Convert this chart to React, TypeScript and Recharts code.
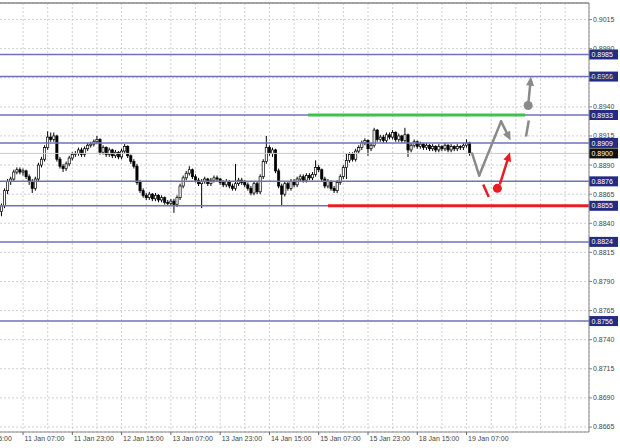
import { ComposedChart, Bar, XAxis, YAxis, CartesianGrid, ReferenceLine, ReferenceDot } from 'recharts';

// H1 candles, bar 0 = 11 Jan 00:00
const opens = [
  0.8850, 0.8855, 0.8868, 0.8876, 0.8878, 0.8884, 0.8886, 0.8884, 0.8885, 0.8880,
  0.8876, 0.8870, 0.8878, 0.8890, 0.8895, 0.8905, 0.8914, 0.8912, 0.8915, 0.8895,
  0.8889, 0.8887, 0.8891, 0.8896, 0.8899, 0.8900, 0.8903, 0.8899, 0.8904, 0.8907,
  0.8908, 0.8910, 0.8912, 0.8901, 0.8905, 0.8899, 0.8903, 0.8898, 0.8901, 0.8897,
  0.8902, 0.8906, 0.8898, 0.8893, 0.8889, 0.8875, 0.8868, 0.8864, 0.8862, 0.8865,
  0.8861, 0.8864, 0.8860, 0.8862, 0.8858, 0.8857, 0.8859, 0.8856, 0.8862, 0.8872,
  0.8879, 0.8883, 0.8886, 0.8880, 0.8877, 0.8874, 0.8876, 0.8878, 0.8874, 0.8877,
  0.8879, 0.8878, 0.8875, 0.8873, 0.8876, 0.8872, 0.8870, 0.8874, 0.8877, 0.8875,
  0.8873, 0.8870, 0.8866, 0.8874, 0.8867, 0.8880, 0.8893, 0.8905, 0.8900, 0.8903,
  0.8885, 0.8872, 0.8865, 0.8874, 0.8870, 0.8876, 0.8873, 0.8878, 0.8880, 0.8877,
  0.8881, 0.8879, 0.8882, 0.8888, 0.8886, 0.8878, 0.8872, 0.8876, 0.8870, 0.8868,
  0.8875, 0.8880, 0.8888, 0.8894, 0.8899, 0.8895, 0.8902, 0.8905, 0.8909, 0.8911,
  0.8904, 0.8907, 0.8920, 0.8912, 0.8914, 0.8911, 0.8916, 0.8914, 0.8918, 0.8912,
  0.8915, 0.8911, 0.8916, 0.8903, 0.8907, 0.8910, 0.8906, 0.8908, 0.8905, 0.8907,
  0.8904, 0.8906, 0.8903, 0.8906, 0.8904, 0.8907, 0.8903, 0.8906, 0.8904, 0.8906,
  0.8905, 0.8907, 0.8909,
];
const highs = [
  0.8857, 0.8870, 0.8878, 0.8880, 0.8886, 0.8888, 0.8888, 0.8887, 0.8886, 0.8882,
  0.8878, 0.8880, 0.8892, 0.8897, 0.8907, 0.8919, 0.8918, 0.8918, 0.8916, 0.8897,
  0.8891, 0.8893, 0.8898, 0.8901, 0.8902, 0.8905, 0.8905, 0.8906, 0.8909, 0.8910,
  0.8912, 0.8915, 0.8913, 0.8907, 0.8906, 0.8905, 0.8904, 0.8903, 0.8902, 0.8904,
  0.8908, 0.8907, 0.8899, 0.8895, 0.8891, 0.8877, 0.8870, 0.8866, 0.8867, 0.8866,
  0.8866, 0.8865, 0.8864, 0.8863, 0.8860, 0.8861, 0.8861, 0.8864, 0.8874, 0.8881,
  0.8885, 0.8889, 0.8887, 0.8882, 0.8879, 0.8878, 0.8880, 0.8879, 0.8879, 0.8881,
  0.8881, 0.8879, 0.8877, 0.8878, 0.8877, 0.8874, 0.8891, 0.8879, 0.8879, 0.8877,
  0.8875, 0.8872, 0.8876, 0.8876, 0.8882, 0.8895, 0.8915, 0.8907, 0.8905, 0.8904,
  0.8887, 0.8874, 0.8876, 0.8876, 0.8878, 0.8878, 0.8880, 0.8882, 0.8882, 0.8883,
  0.8883, 0.8884, 0.8894, 0.8890, 0.8887, 0.8880, 0.8878, 0.8877, 0.8872, 0.8877,
  0.8882, 0.8890, 0.8900, 0.8901, 0.8901, 0.8904, 0.8907, 0.8911, 0.8913, 0.8912,
  0.8909, 0.8922, 0.8921, 0.8916, 0.8916, 0.8918, 0.8918, 0.8920, 0.8919, 0.8917,
  0.8916, 0.8922, 0.8917, 0.8909, 0.8912, 0.8911, 0.8910, 0.8909, 0.8909, 0.8908,
  0.8908, 0.8907, 0.8908, 0.8907, 0.8909, 0.8908, 0.8908, 0.8907, 0.8908, 0.8907,
  0.8909, 0.8912, 0.8910,
];
const lows = [
  0.8846, 0.8853, 0.8865, 0.8873, 0.8876, 0.8882, 0.8882, 0.8881, 0.8878, 0.8873,
  0.8866, 0.8868, 0.8876, 0.8888, 0.8893, 0.8903, 0.8910, 0.8910, 0.8893, 0.8887,
  0.8884, 0.8885, 0.8889, 0.8894, 0.8897, 0.8898, 0.8897, 0.8897, 0.8902, 0.8905,
  0.8906, 0.8908, 0.8899, 0.8899, 0.8897, 0.8897, 0.8896, 0.8896, 0.8895, 0.8895,
  0.8900, 0.8896, 0.8891, 0.8887, 0.8873, 0.8866, 0.8862, 0.8860, 0.8860, 0.8859,
  0.8859, 0.8858, 0.8858, 0.8856, 0.8855, 0.8855, 0.8849, 0.8854, 0.8860, 0.8870,
  0.8877, 0.8881, 0.8878, 0.8875, 0.8872, 0.8853, 0.8874, 0.8872, 0.8872, 0.8875,
  0.8876, 0.8873, 0.8871, 0.8871, 0.8870, 0.8868, 0.8868, 0.8872, 0.8873, 0.8871,
  0.8868, 0.8864, 0.8864, 0.8865, 0.8865, 0.8878, 0.8891, 0.8898, 0.8897, 0.8883,
  0.8870, 0.8855, 0.8863, 0.8868, 0.8868, 0.8871, 0.8871, 0.8876, 0.8875, 0.8875,
  0.8877, 0.8877, 0.8880, 0.8884, 0.8876, 0.8870, 0.8870, 0.8868, 0.8866, 0.8866,
  0.8873, 0.8878, 0.8878, 0.8892, 0.8893, 0.8893, 0.8900, 0.8903, 0.8907, 0.8898,
  0.8902, 0.8905, 0.8910, 0.8910, 0.8909, 0.8909, 0.8912, 0.8912, 0.8910, 0.8910,
  0.8909, 0.8909, 0.8897, 0.8901, 0.8905, 0.8904, 0.8904, 0.8903, 0.8903, 0.8902,
  0.8902, 0.8901, 0.8901, 0.8902, 0.8902, 0.8901, 0.8901, 0.8902, 0.8902, 0.8903,
  0.8903, 0.8905, 0.8898,
];
const closes = [
  0.8855, 0.8868, 0.8876, 0.8878, 0.8884, 0.8886, 0.8884, 0.8885, 0.8880, 0.8876,
  0.8870, 0.8878, 0.8890, 0.8895, 0.8905, 0.8914, 0.8912, 0.8915, 0.8895, 0.8889,
  0.8887, 0.8891, 0.8896, 0.8899, 0.8900, 0.8903, 0.8899, 0.8904, 0.8907, 0.8908,
  0.8910, 0.8912, 0.8901, 0.8905, 0.8899, 0.8903, 0.8898, 0.8901, 0.8897, 0.8902,
  0.8906, 0.8898, 0.8893, 0.8889, 0.8875, 0.8868, 0.8864, 0.8862, 0.8865, 0.8861,
  0.8864, 0.8860, 0.8862, 0.8858, 0.8857, 0.8859, 0.8856, 0.8862, 0.8872, 0.8879,
  0.8883, 0.8886, 0.8880, 0.8877, 0.8874, 0.8876, 0.8878, 0.8874, 0.8877, 0.8879,
  0.8878, 0.8875, 0.8873, 0.8876, 0.8872, 0.8870, 0.8874, 0.8877, 0.8875, 0.8873,
  0.8870, 0.8866, 0.8874, 0.8867, 0.8880, 0.8893, 0.8905, 0.8900, 0.8903, 0.8885,
  0.8872, 0.8865, 0.8874, 0.8870, 0.8876, 0.8873, 0.8878, 0.8880, 0.8877, 0.8881,
  0.8879, 0.8882, 0.8888, 0.8886, 0.8878, 0.8872, 0.8876, 0.8870, 0.8868, 0.8875,
  0.8880, 0.8888, 0.8894, 0.8899, 0.8895, 0.8902, 0.8905, 0.8909, 0.8911, 0.8904,
  0.8907, 0.8920, 0.8912, 0.8914, 0.8911, 0.8916, 0.8914, 0.8918, 0.8912, 0.8915,
  0.8911, 0.8916, 0.8903, 0.8907, 0.8910, 0.8906, 0.8908, 0.8905, 0.8907, 0.8904,
  0.8906, 0.8903, 0.8906, 0.8904, 0.8907, 0.8903, 0.8906, 0.8904, 0.8906, 0.8905,
  0.8907, 0.8909, 0.8900,
];

const timeLabelBars = [-9, 7, 23, 39, 55, 71, 87, 103, 119, 135, 151];
const timeLabels = [
  '8 Jan 15:00', '11 Jan 07:00', '11 Jan 23:00', '12 Jan 15:00', '13 Jan 07:00', '13 Jan 23:00',
  '14 Jan 15:00', '15 Jan 07:00', '15 Jan 23:00', '18 Jan 15:00', '19 Jan 07:00',
];
const gridBars = [-9, -1, 7, 15, 23, 31, 39, 47, 55, 63, 71, 79, 87, 95, 103, 111, 119, 127, 135, 143, 151, 159, 167, 175, 183];
const priceTicks = [
  0.8665, 0.869, 0.8715, 0.874, 0.8765, 0.879, 0.8815, 0.884, 0.8865, 0.889, 0.8915, 0.894, 0.8965, 0.899, 0.9015,
];
const levels = [0.8985, 0.8966, 0.8933, 0.8909, 0.8876, 0.8855, 0.8824, 0.8756];
const lastPrice = 0.89;

// forecast drawings, [bar, price]
const greyWave = [[152.8, 0.89], [155.1, 0.8881], [162.2, 0.89275], [165.3, 0.8911]];
const redDash = [[156.4, 0.88734], [158.2, 0.88625]];
const redDot = [161.0, 0.887];
const redArrow = [[161.9, 0.88742], [165.1, 0.8901]];
const greyDash = [[170.3, 0.89146], [171.2, 0.89283]];
const greyDot = [171.0, 0.89412];
const greyArrow = [[171.0, 0.89412], [171.9, 0.8966]];
const greenSeg = [99.5, 170.0, 0.8933];
const redSeg = [106, 190.75, 0.8855];

const X_DOMAIN = [-13.47, 190.75];
const Y_DOMAIN = [0.86607, 0.90292];

const rows = closes.map((c, i) => ({
  i,
  o: opens[i],
  h: highs[i],
  l: lows[i],
  c,
  range: [lows[i], highs[i]],
}));

const FONT = 'Liberation Sans, Arial, sans-serif';

function Candle(props: any) {
  const { x, y, width, height, payload } = props;
  if (x == null || y == null) return <g />;
  const top = Math.min(y, y + height);
  const h = Math.abs(height);
  const cx = x + width / 2;
  const span = payload.h - payload.l;
  const k = span > 0 ? h / span : 0;
  const bodyTop = top + (payload.h - Math.max(payload.o, payload.c)) * k;
  const bodyH = Math.max(Math.abs(payload.o - payload.c) * k, 0.8);
  const up = payload.c >= payload.o;
  return (
    <g>
      <line x1={cx} x2={cx} y1={top} y2={top + h} stroke="#000" strokeWidth={1} />
      <rect x={cx - 1.1} y={bodyTop} width={2.2} height={bodyH} fill={up ? '#fff' : '#000'} stroke="#000" strokeWidth={0.7} />
    </g>
  );
}

function Arrow(color: string) {
  return (props: any) => {
    const { x1, y1, x2, y2 } = props;
    const a = Math.atan2(y2 - y1, x2 - x1);
    const len = 9;
    const w = 4;
    const bx = x2 - len * Math.cos(a);
    const by = y2 - len * Math.sin(a);
    const px = -Math.sin(a) * w;
    const py = Math.cos(a) * w;
    return (
      <g>
        <line x1={x1} y1={y1} x2={bx} y2={by} stroke={color} strokeWidth={2.5} strokeLinecap="round" />
        <polygon points={`${x2},${y2} ${bx + px},${by + py} ${bx - px},${by - py}`} fill={color} />
      </g>
    );
  };
}

function PriceTag({ viewBox, text, bg }: any) {
  const vb = viewBox || {};
  const x = (vb.x ?? 0) + (vb.width ?? 0);
  const y = vb.y ?? 0;
  return (
    <g>
      <rect x={x} y={y - 5} width={29} height={10} fill={bg} />
      <text x={x + 2.5} y={y + 2.6} fontSize={7} fill="#fff" fontFamily={FONT}>
        {text}
      </text>
    </g>
  );
}

function TimeTick(props: any) {
  const { x, y, payload } = props;
  const k = timeLabelBars.indexOf(payload.value);
  if (k < 0) return <g />;
  return (
    <g>
      <line x1={x} x2={x} y1={y} y2={y + 3} stroke="#666" />
      <text x={x + 1.5} y={y + 8.5} fontSize={7} fill="#444" fontFamily={FONT}>
        {timeLabels[k]}
      </text>
    </g>
  );
}

export default function App() {
  const grey = '#8a8a8a';
  const red = '#ea1c24';
  return (
    <div style={{ position: 'absolute', left: 0, top: 0, width: 620, height: 448, overflow: 'hidden', background: '#fff' }}>
      <div style={{ position: 'absolute', left: -40, top: 0 }}>
        <ComposedChart width={660} height={448} data={rows} margin={{ top: 3, right: 0, bottom: 0, left: 0 }}>
          <CartesianGrid stroke="#cfcfcf" strokeDasharray="2 2" />
          <XAxis
            type="number"
            dataKey="i"
            domain={X_DOMAIN}
            allowDataOverflow
            ticks={gridBars}
            interval={0}
            height={16}
            tickSize={0}
            tickMargin={0}
            tickLine={false}
            axisLine={{ stroke: '#888' }}
            tick={<TimeTick />}
          />
          <YAxis
            orientation="right"
            width={31}
            domain={Y_DOMAIN}
            allowDataOverflow
            ticks={priceTicks}
            interval={0}
            tickSize={3}
            tickMargin={1}
            tickLine={{ stroke: '#888' }}
            axisLine={{ stroke: '#888' }}
            tickFormatter={(v: number) => v.toFixed(4)}
            tick={{ fontSize: 7, fill: '#444', fontFamily: FONT }}
          />
          <ReferenceLine y={Y_DOMAIN[1]} stroke="#888" strokeWidth={1.5} />
          <ReferenceLine
            y={lastPrice}
            stroke="#c8c8c8"
            strokeWidth={1}
            label={(p: any) => <PriceTag viewBox={p.viewBox} text={lastPrice.toFixed(4)} bg="#111" />}
          />
          {levels.map((v) => (
            <ReferenceLine
              key={v}
              y={v}
              stroke="#7070bb"
              strokeWidth={1.5}
              label={(p: any) => <PriceTag viewBox={p.viewBox} text={v.toFixed(4)} bg="#232c82" />}
            />
          ))}
          <ReferenceLine
            segment={[{ x: greenSeg[0], y: greenSeg[2] }, { x: greenSeg[1], y: greenSeg[2] }]}
            stroke="#3ec04c"
            strokeWidth={3}
          />
          <ReferenceLine
            segment={[{ x: redSeg[0], y: redSeg[2] }, { x: redSeg[1], y: redSeg[2] }]}
            stroke={red}
            strokeWidth={3}
          />
          <Bar dataKey="range" barSize={3} shape={<Candle />} isAnimationActive={false} />
          <ReferenceLine
            segment={[{ x: greyWave[0][0], y: greyWave[0][1] }, { x: greyWave[1][0], y: greyWave[1][1] }]}
            stroke={grey}
            strokeWidth={2.5}
            strokeLinecap="round"
          />
          <ReferenceLine
            segment={[{ x: greyWave[1][0], y: greyWave[1][1] }, { x: greyWave[2][0], y: greyWave[2][1] }]}
            stroke={grey}
            strokeWidth={2.5}
            strokeLinecap="round"
          />
          <ReferenceLine
            segment={[{ x: greyWave[2][0], y: greyWave[2][1] }, { x: greyWave[3][0], y: greyWave[3][1] }]}
            shape={Arrow(grey)}
          />
          <ReferenceLine
            segment={[{ x: redDash[0][0], y: redDash[0][1] }, { x: redDash[1][0], y: redDash[1][1] }]}
            stroke={red}
            strokeWidth={2.5}
          />
          <ReferenceLine
            segment={[{ x: redArrow[0][0], y: redArrow[0][1] }, { x: redArrow[1][0], y: redArrow[1][1] }]}
            shape={Arrow(red)}
          />
          <ReferenceDot x={redDot[0]} y={redDot[1]} r={4.5} fill={red} stroke="none" />
          <ReferenceLine
            segment={[{ x: greyDash[0][0], y: greyDash[0][1] }, { x: greyDash[1][0], y: greyDash[1][1] }]}
            stroke={grey}
            strokeWidth={2.5}
          />
          <ReferenceLine
            segment={[{ x: greyArrow[0][0], y: greyArrow[0][1] }, { x: greyArrow[1][0], y: greyArrow[1][1] }]}
            shape={Arrow(grey)}
          />
          <ReferenceDot x={greyDot[0]} y={greyDot[1]} r={4.5} fill={grey} stroke="none" />
        </ComposedChart>
      </div>
    </div>
  );
}
